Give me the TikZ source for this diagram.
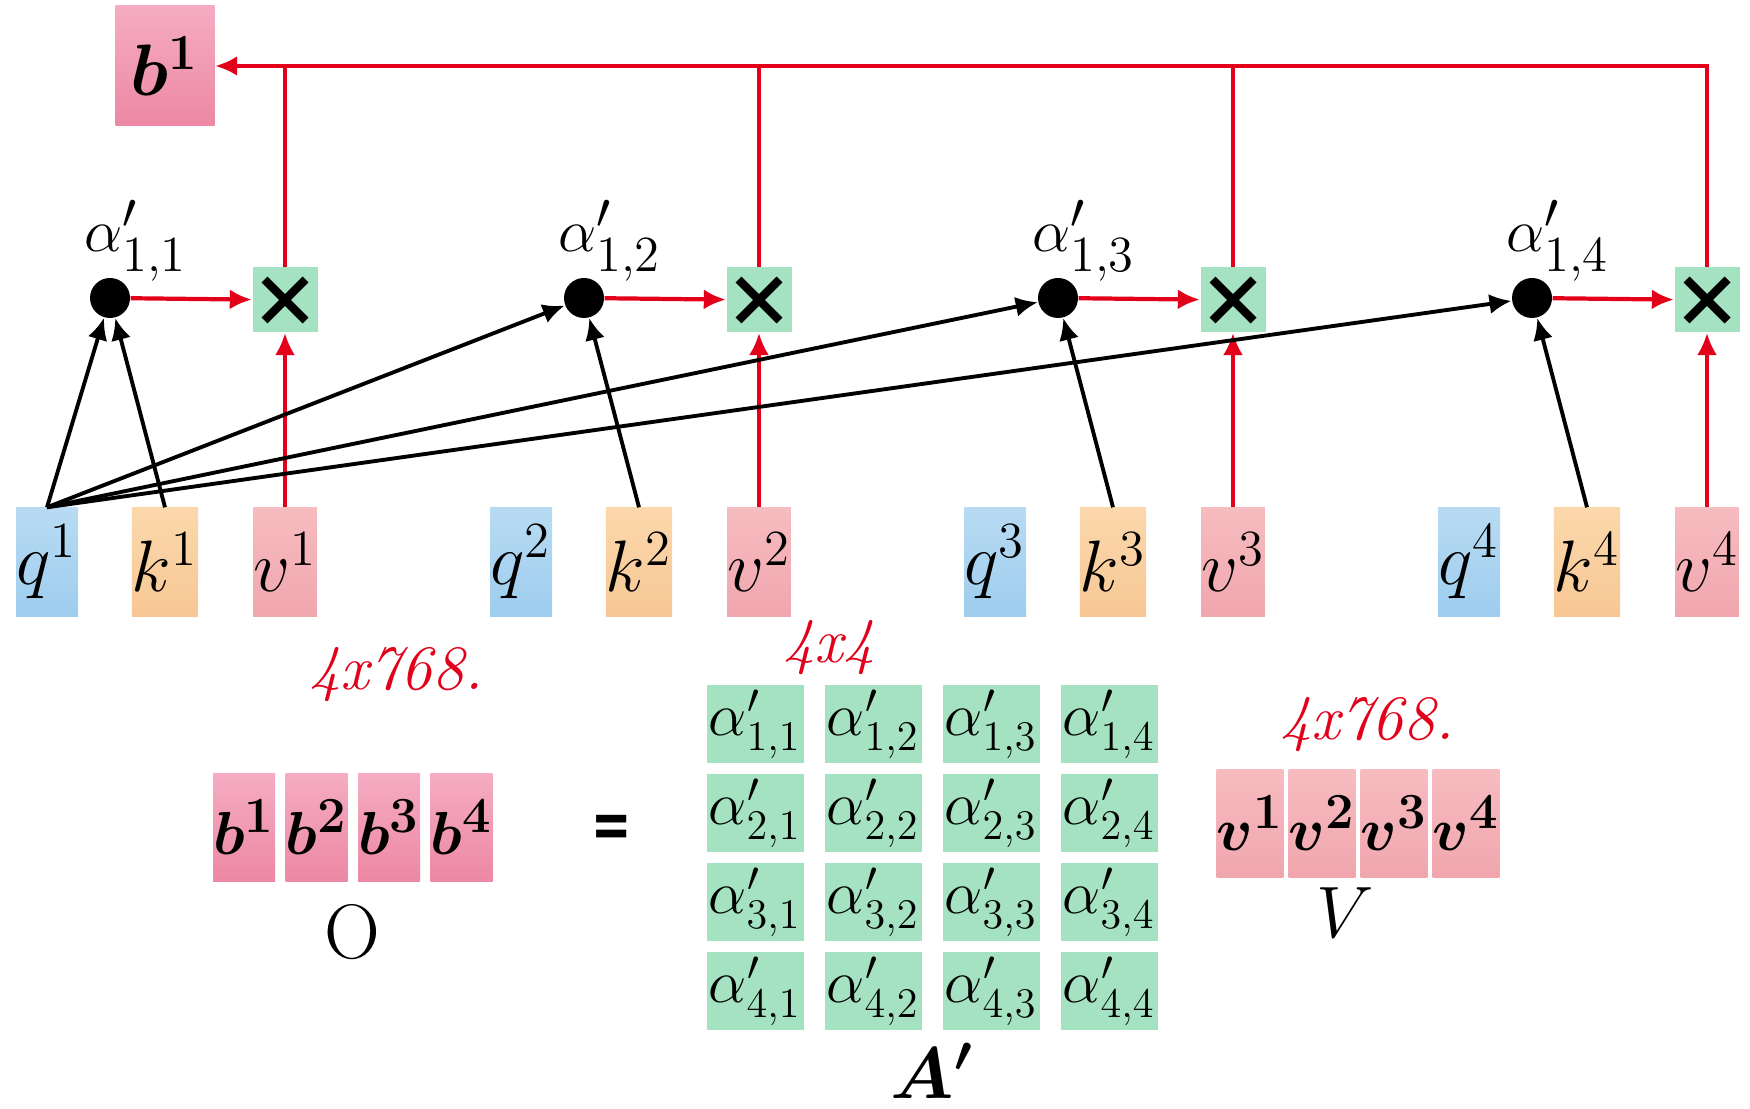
\documentclass[tikz,border=0pt]{standalone}
\usepackage{amsmath}
\usepackage{fontspec}
\newfontfamily\heavyfont{DejaVu Sans}
\usepackage{tikz}
\usetikzlibrary{shapes,arrows.meta}

\definecolor{lineRed}{RGB}{226,0,26}
\definecolor{qTop}{RGB}{184,219,243}
\definecolor{qBot}{RGB}{158,205,238}
\definecolor{kTop}{RGB}{251,216,172}
\definecolor{kBot}{RGB}{247,199,148}
\definecolor{vTop}{RGB}{246,188,192}
\definecolor{vBot}{RGB}{241,166,174}
\definecolor{bTop}{RGB}{245,172,194}
\definecolor{bBot}{RGB}{237,136,164}
\definecolor{cellGreen}{RGB}{164,226,194}

\begin{document}
\begin{tikzpicture}[>={Latex[length=2.2mm,width=2mm]}]
    \tikzset{
        vec/.style={rectangle, inner sep=0pt, minimum width=0.62cm, minimum height=1.08cm, font=\fontsize{20}{24}\selectfont},
        qvec/.style={vec, top color=qTop, bottom color=qBot},
        kvec/.style={vec, top color=kTop, bottom color=kBot},
        vvec/.style={vec, top color=vTop, bottom color=vBot},
        bvec/.style={vec, top color=bTop, bottom color=bBot},
        mult/.style={rectangle, fill=cellGreen, inner sep=0pt, minimum size=0.65cm,
            path picture={
                \draw[line width=2.4pt] ([shift={(0.12,0.12)}]path picture bounding box.south west) -- ([shift={(-0.12,-0.12)}]path picture bounding box.north east);
                \draw[line width=2.4pt] ([shift={(0.12,-0.12)}]path picture bounding box.north west) -- ([shift={(-0.12,0.12)}]path picture bounding box.south east);
            }},
        score/.style={circle, fill=black, inner sep=0pt, minimum size=0.4cm},
        cell/.style={rectangle, fill=cellGreen, inner sep=0pt, minimum width=0.97cm, minimum height=0.78cm, font=\fontsize{18}{20}\selectfont},
        red line/.style={draw=lineRed, line width=0.9pt},
        hand/.style={text=lineRed, font=\fontsize{18}{20}\selectfont\itshape},
    }
    % canvas
    \fill[white] (0,0) rectangle (17.5,11.08);
    \useasboundingbox (0,0) rectangle (17.5,11.08);

    % Output vector b^1
    \node[bvec, minimum width=0.99cm, minimum height=1.2cm, font=\fontsize{21}{24}\selectfont] (b1) at (1.65,10.42) {$\boldsymbol{b^1}$};

    % q, k, v of every input, the scores and the products
    \foreach \j in {1,...,4} {
        \pgfmathsetmacro{\qx}{0.47+4.74*(\j-1)}
        \node[qvec] (q\j) at (\qx,5.46) {$q^{\j}$};
        \node[kvec] (k\j) at (\qx+1.18,5.46) {$k^{\j}$};
        \node[vvec] (v\j) at (\qx+2.38,5.46) {$v^{\j}$};
        \node[score] (s\j) at (\qx+0.63,8.1) {};
        \node[font=\fontsize{19}{20}\selectfont] (sl\j) at (\qx+0.89,8.67) {$\alpha'_{1,\j}$};
        \node[mult] (m\j) at (\qx+2.38,8.08) {};
    }

    % q^1 against every key
    \foreach \j in {1,...,4} {
        \draw[->, line width=1.1pt] (q1.north) -- (s\j);
        \draw[->, line width=1.1pt] (k\j.north) -- (s\j);
        \draw[red line, line width=1.2pt, ->] (s\j) -- (m\j);
        \draw[red line, ->] (v\j.north) -- (m\j.south);
    }

    % Sum of the weighted values
    \draw[red line, line width=1.2pt, ->] (m4.north) |- (b1.east);
    \foreach \j in {1,2,3}
        \draw[red line] (m\j.north) -- (m\j.north |- b1.east);

    % Matrix form O = V A'
    \foreach \j in {1,...,4} {
        \node[bvec, font=\fontsize{19}{22}\selectfont] (o\j) at ({2.44+0.725*(\j-1)},2.81) {$\boldsymbol{b^{\j}}$};
        \node[vvec, font=\fontsize{19}{22}\selectfont] (w\j) at ({12.5+0.72*(\j-1)},2.85) {$\boldsymbol{v^{\j}}$};
    }
    \node[font=\fontsize{22}{24}\selectfont] (Olab) at (3.52,1.76) {O};
    \node[font=\heavyfont\bfseries\fontsize{19}{19}\selectfont, xscale=0.72] (eq) at (6.12,2.77) {=};
    \foreach \r in {1,...,4}
        \foreach \c in {1,...,4}
            \node[cell] (a\r\c) at ({7.55+1.18*(\c-1)},{3.84-0.89*(\r-1)}) {$\alpha'_{\r,\c}$};
    \node[font=\fontsize{22}{24}\selectfont] (Alab) at (9.32,0.37) {$\boldsymbol{A'}$};
    \node[font=\fontsize{22}{24}\selectfont] (Vlab) at (13.45,1.95) {$V$};

    % hand written sizes
    \node[hand] (dimO) at (3.96,4.33) {4x768.};
    \node[hand] (dimA) at (8.29,4.6) {4x4};
    \node[hand] (dimV) at (13.67,3.83) {4x768.};
\end{tikzpicture}
\end{document}
